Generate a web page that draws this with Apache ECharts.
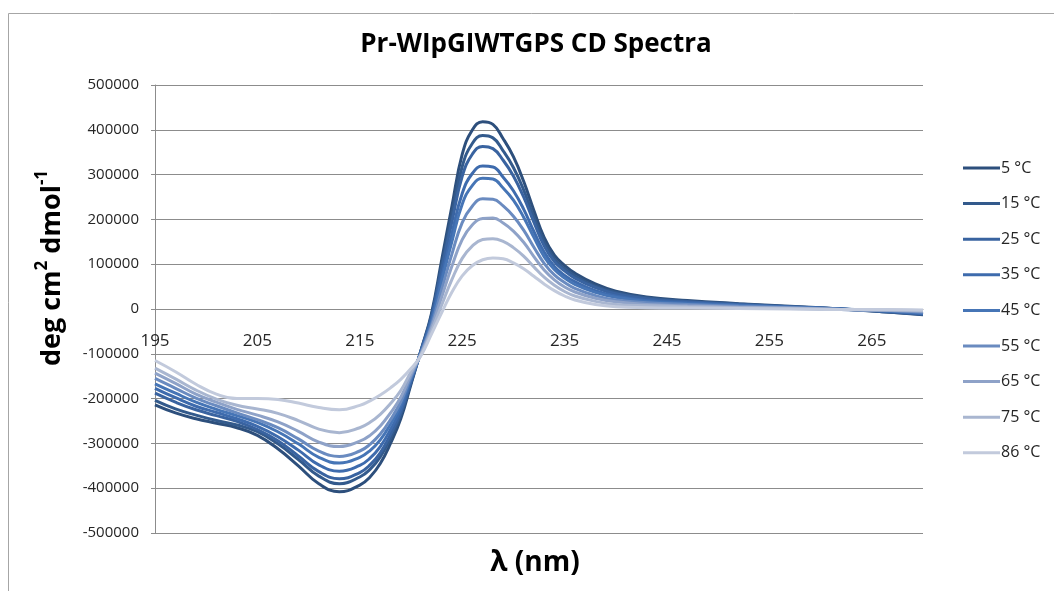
<!DOCTYPE html>
<html>
<head>
<meta charset="utf-8">
<script src="https://cdn.jsdelivr.net/npm/echarts@6/dist/echarts.min.js"></script>
<style>
html,body{margin:0;padding:0;background:#fff;}
#chart{width:1054px;height:591px;}
</style>
</head>
<body>
<div id="chart"></div>
<script>
// Wavelengths (nm)
const wavelengths = [195,197,199,201,203,205,207,209,211,213,215,216,217,218,219,220,221,222,223,224,225,226,227,228,229,230,231,232,233,234,235,236,238,240,243,247,252,257,262,266,270];

const seriesNames = ['5 °C','15 °C','25 °C','35 °C','45 °C','55 °C','65 °C','75 °C','86 °C'];

const t5  = [-214000,-232000,-245000,-255000,-265000,-282000,-312000,-350000,-390000,-408000,-393000,-375000,-345000,-300000,-245000,-168000,-90000,-10000,110000,230000,345000,400000,418000,412000,380000,340000,285000,220000,160000,120000,97000,80000,56000,40000,27000,19000,12000,6000,0,-6000,-13000];
const t15 = [-204000,-223000,-237000,-249000,-259000,-274000,-301000,-336000,-373000,-390000,-375000,-358000,-330000,-288000,-236000,-165000,-91000,-15000,98000,211000,318000,370000,387000,382000,353000,316000,266000,205000,150000,112000,90000,74000,51000,37000,25000,17000,11000,5000,0,-6000,-12000];
const t25 = [-188000,-208000,-225000,-238000,-251000,-269000,-294000,-328000,-363000,-379000,-365000,-348000,-321000,-280000,-231000,-162000,-92000,-18000,89000,195000,296000,346000,363000,358000,332000,297000,250000,194000,141000,106000,85000,69000,48000,34000,23000,16000,10000,5000,0,-5000,-11000];
const t35 = [-177000,-198000,-217000,-231000,-245000,-262000,-285000,-315000,-348000,-362000,-349000,-333000,-307000,-269000,-223000,-158000,-94000,-25000,72000,169000,258000,303000,319000,317000,294000,264000,223000,173000,127000,95000,75000,61000,41000,29000,19000,14000,9000,4000,0,-4000,-10000];
const t45 = [-167000,-188000,-208000,-224000,-238000,-253000,-274000,-301000,-331000,-344000,-331000,-316000,-292000,-257000,-214000,-155000,-95000,-29000,62000,151000,234000,276000,292000,290000,270000,243000,205000,160000,117000,88000,69000,55000,37000,26000,17000,12000,8000,4000,0,-4000,-9000];
const t55 = [-155000,-177000,-199000,-216000,-232000,-247000,-265000,-290000,-317000,-329000,-317000,-302000,-279000,-247000,-207000,-151000,-97000,-36000,44000,123000,193000,230000,246000,245000,230000,207000,176000,138000,102000,76000,59000,46000,30000,20000,14000,10000,6000,3000,-1000,-3000,-7000];
const t65 = [-143000,-166000,-190000,-208000,-224000,-237000,-252000,-273000,-297000,-307000,-295000,-282000,-261000,-232000,-197000,-146000,-99000,-42000,27000,96000,155000,188000,202000,203000,192000,174000,149000,117000,87000,65000,49000,38000,24000,16000,10000,7000,4000,2000,-1000,-3000,-5000];
const t75 = [-132000,-156000,-181000,-201000,-215000,-223000,-233000,-249000,-268000,-276000,-265000,-253000,-235000,-211000,-182000,-140000,-101000,-49000,9000,66000,113000,141000,155000,157000,151000,137000,118000,94000,71000,53000,39000,29000,17000,10000,7000,5000,3000,1000,-1000,-2000,-4000];
const t86 = [-115000,-140000,-168000,-190000,-200000,-200000,-202000,-210000,-220000,-225000,-215000,-205000,-192000,-176000,-157000,-133000,-103000,-56000,-8000,38000,74000,97000,110000,114000,112000,103000,90000,73000,56000,41000,29000,20000,10000,5000,3000,2000,1000,0,-1000,-1000,-2000];

const allValues = [t5,t15,t25,t35,t45,t55,t65,t75,t86];
const colors = ['#2d4f7c','#335a8c','#3963a0','#3e6bad','#4675b6','#6a8bc0','#8ea2c8','#a9b6d0','#c2cadc'];

const yTicks = [-500000,-400000,-300000,-200000,-100000,0,100000,200000,300000,400000,500000];

const chart = echarts.init(document.getElementById('chart'), null, {renderer:'canvas'});

const series = seriesNames.map((name, k) => ({
  name: name,
  type: 'line',
  data: wavelengths.map((w, i) => [w, allValues[k][i]]),
  smooth: 0.45,
  symbol: 'none',
  lineStyle: { width: 3, color: colors[k] },
  itemStyle: { color: colors[k] }
}));

const font = '"Open Sans", "Liberation Sans", sans-serif';
const gridTop = 85, gridBottom = 58, chartH = 591;
const plotH = chartH - gridTop - gridBottom;
// distance from bottom of grid to the zero line
const zeroOffset = plotH * (0 - yTicks[0]) / (yTicks[yTicks.length-1] - yTicks[0]);

chart.setOption({
  animation: false,
  backgroundColor: '#ffffff',
  grid: { left: 155, right: 131, top: gridTop, bottom: gridBottom },
  xAxis: {
    type: 'value',
    min: 195, max: 270, interval: 10,
    offset: -zeroOffset,
    axisLine: { onZero: false, lineStyle: { color: '#8c8c8c', width: 1 } },
    axisTick: { show: false },
    splitLine: { show: false },
    axisLabel: { showMaxLabel: false, margin: 24, fontSize: 17, color: '#262626', fontFamily: font,
      formatter: v => String(v) }
  },
  yAxis: {
    type: 'value',
    min: yTicks[0], max: yTicks[yTicks.length-1], interval: 100000,
    axisLine: { show: true, onZero: false, lineStyle: { color: '#8c8c8c', width: 1 } },
    axisTick: { show: true, length: 4, lineStyle: { color: '#8c8c8c' } },
    splitLine: { show: true, lineStyle: { color: '#8c8c8c', width: 1 } },
    axisLabel: { margin: 16, fontSize: 15, color: '#262626', fontFamily: font,
      formatter: v => String(v) }
  },
  legend: {
    orient: 'vertical',
    left: 958,
    top: 155,
    icon: 'rect',
    itemWidth: 37,
    itemHeight: 3,
    itemGap: 19.6,
    data: seriesNames,
    textStyle: { fontSize: 16, color: '#262626', fontFamily: font, lineHeight: 16, padding: [0,0,0,-4] }
  },
  graphic: [
    { type: 'rect', shape: { x: 8.5, y: 13.5, width: 1100, height: 700 }, style: { fill: 'none', stroke: '#a6a6a6', lineWidth: 1 }, silent: true, z: -10 },
    { type: 'text', x: 536, y: 45, style: { text: 'Pr-WIpGIWTGPS CD Spectra', font: 'bold 26px ' + font, fill: '#000', textAlign: 'center', textVerticalAlign: 'middle' } },
    { type: 'text', x: 535, y: 563, style: { text: 'λ (nm)', font: 'bold 28px ' + font, fill: '#000', textAlign: 'center', textVerticalAlign: 'middle' } },
    { type: 'text', x: 50, y: 268, rotation: Math.PI / 2,
      style: {
        text: '{a|deg cm}{s|2}{a| dmol}{s|-1}',
        align: 'center', verticalAlign: 'middle',
        rich: {
          a: { fontSize: 27, fontWeight: 'bold', fill: '#000', fontFamily: font, lineHeight: 32, verticalAlign: 'bottom' },
          s: { fontSize: 17, fontWeight: 'bold', fill: '#000', fontFamily: font, lineHeight: 32, verticalAlign: 'top' }
        }
      } }
  ],
  series: series
});
</script>
</body>
</html>
